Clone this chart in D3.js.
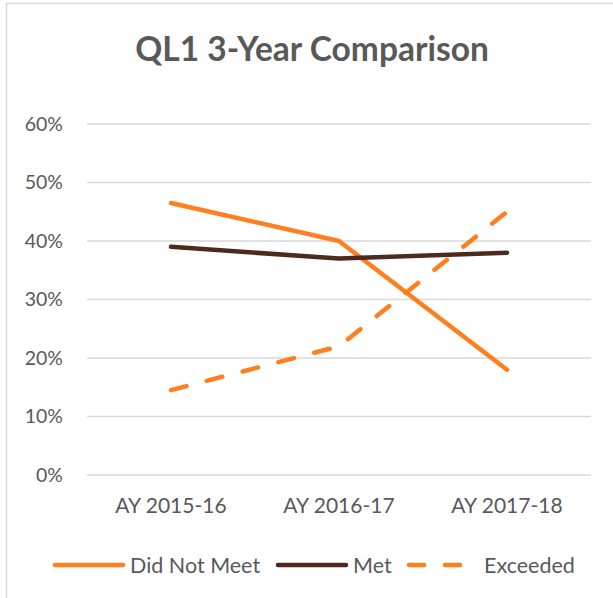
<!DOCTYPE html>
<html>
<head>
<meta charset="utf-8">
<script src="https://cdn.jsdelivr.net/npm/d3@7"></script>
<style>
  body { margin: 0; background: #fff; }
  svg { display: block; font-family: Lato, "Open Sans", sans-serif; }
</style>
</head>
<body>
<svg id="chart" width="613" height="598"></svg>
<script>
// chart data
const categories = ["AY 2015-16", "AY 2016-17", "AY 2017-18"];
const didNotMeet = [0.465, 0.40, 0.18];
const met = [0.39, 0.37, 0.38];
const exceeded = [0.145, 0.22, 0.45];
const yTicks = [0, 0.1, 0.2, 0.3, 0.4, 0.5, 0.6];
const seriesNames = ["Did Not Meet", "Met", "Exceeded"];

const orange = "#ff7f1f";
const brown = "#4e2a1e";
const textColor = "#595959";

const svg = d3.select("#chart");

// outer chart border (cut off at right and bottom like the reference)
svg.append("rect")
  .attr("x", 6.5).attr("y", 3.5)
  .attr("width", 640).attr("height", 640)
  .attr("fill", "none")
  .attr("stroke", "#d9d9d9")
  .attr("stroke-width", 1.5);

svg.append("text")
  .attr("x", 312).attr("y", 61)
  .attr("text-anchor", "middle")
  .attr("font-size", 33.5)
  .attr("font-weight", "bold")
  .attr("fill", textColor)
  .text("QL1 3-Year Comparison");

const x = d3.scaleBand().domain(categories).range([87, 591]);
const y = d3.scaleLinear().domain([0, 0.6]).range([475, 124]);

// gridlines
svg.append("g")
  .selectAll("line")
  .data(yTicks)
  .join("line")
  .attr("x1", 87).attr("x2", 591)
  .attr("y1", d => y(d)).attr("y2", d => y(d))
  .attr("stroke", "#d9d9d9")
  .attr("stroke-width", 1.3);

// y axis labels
const yAxis = svg.append("g")
  .attr("transform", "translate(63,0)")
  .call(d3.axisLeft(y).tickValues(yTicks).tickFormat(d3.format(".0%")).tickSize(0).tickPadding(0));
yAxis.select(".domain").remove();
yAxis.selectAll("text")
  .attr("font-size", 19.5)
  .attr("font-family", "Lato, sans-serif")
  .attr("fill", textColor);

// x axis labels
const xAxis = svg.append("g")
  .attr("transform", "translate(0,498)")
  .call(d3.axisBottom(x).tickSize(0).tickPadding(0));
xAxis.select(".domain").remove();
xAxis.selectAll("text")
  .attr("font-size", 21)
  .attr("font-family", "Lato, sans-serif")
  .attr("fill", textColor);

const line = d3.line()
  .x((d, i) => x(categories[i]) + x.bandwidth() / 2)
  .y(d => y(d));

const series = [
  { name: seriesNames[0], values: didNotMeet, color: orange, dash: null },
  { name: seriesNames[1], values: met, color: brown, dash: null },
  { name: seriesNames[2], values: exceeded, color: orange, dash: "16,21" }
];

svg.append("g")
  .selectAll("path")
  .data(series)
  .join("path")
  .attr("d", d => line(d.values))
  .attr("fill", "none")
  .attr("stroke", d => d.color)
  .attr("stroke-width", 4.5)
  .attr("stroke-linecap", "round")
  .attr("stroke-linejoin", "round")
  .attr("stroke-dasharray", d => d.dash);

// legend
const legendX = [55, 278, 409];
const legendLen = [68, 68, 62];
const legendText = [130, 353, 484];
const legend = svg.append("g")
  .selectAll("g")
  .data(series)
  .join("g")
  .attr("transform", (d, i) => `translate(${legendX[i]},565)`);

legend.append("line")
  .attr("x1", 0).attr("x2", (d, i) => legendLen[i])
  .attr("y1", 0).attr("y2", 0)
  .attr("stroke", d => d.color)
  .attr("stroke-width", 4.5)
  .attr("stroke-linecap", "round")
  .attr("stroke-dasharray", d => d.dash ? "15,21" : null);

legend.append("text")
  .attr("x", (d, i) => legendText[i] - legendX[i])
  .attr("y", 7.5)
  .attr("font-size", 21.5)
  .attr("fill", textColor)
  .text(d => d.name);
</script>
</body>
</html>
